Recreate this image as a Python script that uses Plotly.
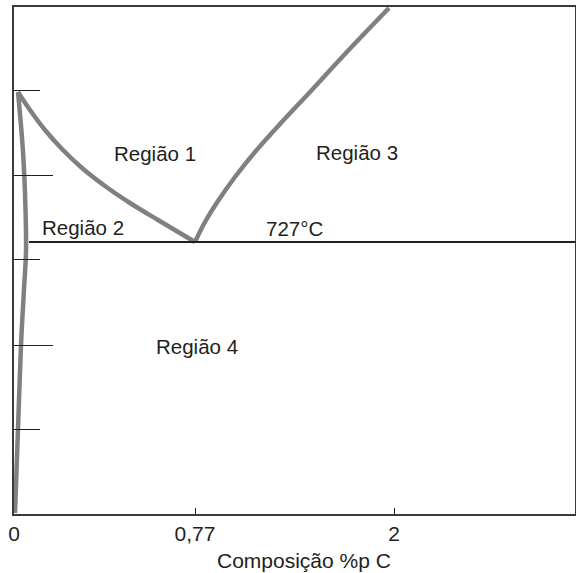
import plotly.graph_objects as go

# Schematic Fe-C diagram (arbitrary schematic units)
tick_pos = [0, 181, 380]
tick_text = ["0", "0,77", "2"]

ferrite_x = [1, 4, 7, 10, 12, 11.5, 9, 4]
ferrite_y = [1, 85, 169, 225, 262, 305, 362, 422]

a3_x = [4, 16, 31, 48, 68, 91, 116, 144, 181]
a3_y = [422, 404, 384, 365, 346, 328, 311, 294, 272]

acm_x = [181, 191, 204, 221, 241, 266, 296, 331, 375]
acm_y = [272, 292, 313, 337, 362, 390, 422, 460, 506]

eutectoid_x = [15, 561]
eutectoid_y = [272, 272]

labels = ["Região 1", "Região 2", "Região 3", "727°C", "Região 4"]
label_x = [141, 69, 343, 280, 183]
label_y = [361, 287, 362, 286, 168]

y_major = [169, 339]
y_minor = [85, 255, 424]

GRAY = "#808080"
DARK = "#231f20"
FONT = "Liberation Sans, Arial, sans-serif"

fig = go.Figure()
for xs, ys in [(ferrite_x, ferrite_y), (a3_x, a3_y), (acm_x, acm_y)]:
    fig.add_trace(go.Scatter(x=xs, y=ys, mode="lines",
                             line=dict(color=GRAY, width=4.5, shape="spline", smoothing=1.0),
                             hoverinfo="skip", showlegend=False))
fig.add_trace(go.Scatter(x=eutectoid_x, y=eutectoid_y, mode="lines", line=dict(color=DARK, width=2),
                         hoverinfo="skip", showlegend=False))

for t, x, y in zip(labels, label_x, label_y):
    fig.add_annotation(x=x, y=y, text=t, showarrow=False, font=dict(family=FONT, size=20.5, color=DARK))

fig.add_annotation(x=0.517, y=-0.066, xref="paper", yref="paper", text="Composição %p C", showarrow=False,
                   font=dict(family=FONT, size=21, color=DARK), yanchor="top")

fig.update_xaxes(range=[0, 561], tickmode="array", tickvals=tick_pos, ticktext=tick_text,
                 ticks="inside", ticklen=6, tickcolor=DARK, tickwidth=1,
                 showline=True, linecolor="#3a3a3a", linewidth=1.5, mirror=True,
                 showgrid=False, zeroline=False, automargin=False,
                 tickfont=dict(family=FONT, size=21, color=DARK))
fig.update_yaxes(range=[0, 507], tickmode="array", tickvals=y_major, ticktext=["", ""],
                 ticks="inside", ticklen=39, tickcolor=DARK, tickwidth=1,
                 minor=dict(tickmode="array", tickvals=y_minor, ticks="inside", ticklen=26,
                            tickcolor=DARK, tickwidth=1, showgrid=False),
                 showline=True, linecolor="#3a3a3a", linewidth=1.5, mirror=True,
                 showgrid=False, zeroline=False, showticklabels=False, automargin=False)

fig.update_layout(width=576, height=573, margin=dict(l=14, r=1, t=7, b=59),
                  paper_bgcolor="white", plot_bgcolor="white", showlegend=False)

fig.write_html("out.html", config={"displayModeBar": False},
               post_script="document.body.style.margin='0';document.body.style.overflow='hidden';")
